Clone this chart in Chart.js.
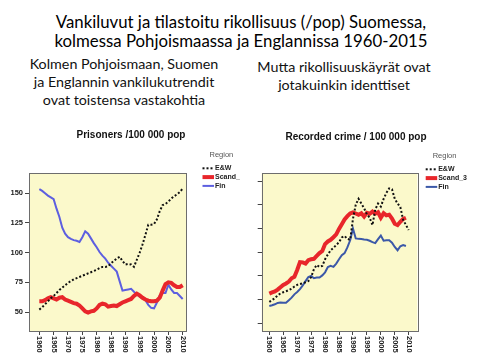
<!DOCTYPE html>
<html>
<head>
<meta charset="utf-8">
<script src="https://cdn.jsdelivr.net/npm/chart.js@4.4.1/dist/chart.umd.min.js"></script>
<style>
  body { margin: 0; width: 480px; height: 360px; background: #fff; overflow: hidden; position: relative; font-family: Lato, "Open Sans", sans-serif; }
  .t { position: absolute; left: 0; width: 482px; text-align: center; font-size: 16.8px; line-height: 19px; top: 12px; color: #000; }
  .s { position: absolute; text-align: center; font-size: 14.3px; line-height: 18px; color: #111; }
  #s1 { left: 4px; width: 240px; top: 55px; }
  #s2 { left: 244px; width: 200px; top: 58px; }
  canvas { position: absolute; top: 120px; }
  #prison { left: 0; }
  #crime { left: 240px; }
</style>
</head>
<body>
<div class="t">Vankiluvut ja tilastoitu rikollisuus (/pop) Suomessa,<br>kolmessa Pohjoismaassa ja Englannissa 1960-2015</div>
<div class="s" id="s1">Kolmen Pohjoismaan, Suomen<br>ja Englannin vankilukutrendit<br>ovat toistensa vastakohtia</div>
<div class="s" id="s2">Mutta rikollisuuskäyrät ovat<br>jotakuinkin identtiset</div>
<canvas id="prison" width="240" height="240"></canvas>
<canvas id="crime" width="240" height="240"></canvas>
<script>
// vuodet ja sarjat
const years = [1960,1961,1962,1963,1964,1965,1966,1967,1968,1969,
  1970,1971,1972,1973,1974,1975,1976,1977,1978,1979,
  1980,1981,1982,1983,1984,1985,1986,1987,1988,1989,
  1990,1991,1992,1993,1994,1995,1996,1997,1998,1999,
  2000,2001,2002,2003,2004,2005,2006,2007,2008,2009,
  2010];
const xTicks = [1960,1965,1970,1975,1980,1985,1990,1995,2000,2005,2010];
const seriesNames = ['E&W', 'Scand_3', 'Fin'];

const prisonTicks = [50,75,100,125,150];
const prisonEW = [52,54,56.5,59,61.5,63.5,66,68.5,70.5,72.5,
  74.5,76,77.5,78.5,79.5,80.5,81.5,82.5,83.5,84.5,
  85.5,87,88,88,88.5,91,93,95,96.5,93,
  90,90.5,90,88,94,100,107,115,123.5,123.5,
  124,128,135,140,141,143,145.5,147.5,149,151,
  154];
const prisonScand = [59,59,60,61.5,62.5,61.5,60.5,62,62.5,60.5,
  59.5,58.5,57.5,57,55.5,53,50.5,49.5,50.5,51,
  53,56,57,56.5,54.5,55,55.5,55,56.5,58,
  59,60,61,63.5,65.5,64,62,60.5,59.5,59,
  59,59.5,62,68,73.5,75,74.5,72.5,71,71,
  72.5];
const prisonFin = [153.5,152,150,148,146.5,145,137,130,121,116,
  113,111.5,110.5,110,109,113,118,116,112,108,
  104.5,100.5,97.5,95,91.5,89,86.5,84,76,68,
  68.5,69,69.5,67,65,63,61.5,60,56,53.5,
  53,58,64,66,66,73,69,66,66,63.5,
  61];

const crimeTicks = [2000,4000,6000,8000,10000,12000,14000];
const crimeEW = [3800,3960,4120,4360,4520,4620,4700,4800,4920,5100,
  5240,5320,5380,5460,5560,5900,6560,6920,6760,6840,
  7400,7800,8160,8360,8600,8840,9240,9360,9120,9040,
  10800,12000,12500,12100,11700,11200,10900,10280,11600,12100,
  11840,12500,13000,13380,13300,12500,12100,11800,10720,10300,
  9860];
const crimeScand = [4500,4600,4680,4840,5040,5240,5360,5520,5800,5920,
  6500,7160,7140,7040,7320,7400,7440,7680,7920,8100,
  8680,8900,9040,9260,9500,9960,10360,10760,11040,11260,
  11360,11260,11160,11280,11000,11320,11240,11420,11240,11360,
  10900,11280,11100,11160,10840,10400,10280,10560,10800,10900,
  null];
const crimeFin = [3460,3520,3600,3720,3760,3740,3740,3940,4160,4440,
  4640,4880,5200,5560,5900,6000,5800,5860,5860,6040,
  6300,6740,6840,6760,7040,7400,7740,7920,8400,9000,
  10000,9160,9120,9100,9060,9040,8960,8840,8760,9100,
  9400,8960,9000,9000,8800,8440,8160,8500,8600,8520,
  null];

const AXFONT = '"Liberation Sans", Arial, sans-serif';

function pts(vals) {
  return years.map((y, i) => ({ x: y, y: vals[i] }));
}

/**
 * panel: tausta, kehys, otsikko, selite ja x-akselin pystytekstit
 */
const panel = {
  id: 'panel',
  beforeDraw(chart) {
    const { ctx, chartArea: a } = chart;
    ctx.save();
    ctx.fillStyle = '#fbf9cb';
    ctx.fillRect(a.left, a.top, a.right - a.left, a.bottom - a.top);
    ctx.restore();
  },
  afterDraw(chart, args, o) {
    const { ctx, chartArea: a } = chart;
    ctx.save();
    ctx.strokeStyle = '#6d6d6d';
    ctx.lineWidth = 1;
    ctx.strokeRect(Math.round(a.left) + 0.5, Math.round(a.top) + 0.5,
      Math.round(a.right - a.left), Math.round(a.bottom - a.top));

    // otsikko
    ctx.fillStyle = '#111';
    ctx.font = 'bold 10px ' + AXFONT;
    ctx.textAlign = 'center';
    ctx.textBaseline = 'middle';
    ctx.fillText(o.title, o.titleX, o.titleY);

    // x-akselin tekstit ylhäältä alas
    const s = chart.scales.x;
    ctx.font = 'bold 7.5px ' + AXFONT;
    ctx.fillStyle = '#222';
    ctx.textAlign = 'left';
    s.ticks.forEach((t) => {
      const px = s.getPixelForValue(t.value);
      ctx.save();
      ctx.translate(px, s.top + 5);
      ctx.rotate(Math.PI / 2);
      ctx.fillText(String(t.value), 0, 0);
      ctx.restore();
    });

    // selite
    ctx.font = '7.5px ' + AXFONT;
    ctx.fillStyle = '#555';
    ctx.fillText('Region', o.legX + 7, o.legY);
    ctx.font = 'bold 7px ' + AXFONT;
    chart.data.datasets.forEach((ds, i) => {
      const y = o.legY + 13.3 + i * 8.8;
      ctx.save();
      ctx.strokeStyle = ds.borderColor;
      ctx.lineWidth = ds.borderWidth;
      ctx.setLineDash(ds.borderDash || []);
      ctx.beginPath();
      ctx.moveTo(o.legX, y);
      ctx.lineTo(o.legX + 11.5, y);
      ctx.stroke();
      ctx.restore();
      ctx.fillStyle = '#222';
      ctx.fillText(ds.label, o.legX + 12.5, y);
    });
    ctx.restore();
  }
};

function initChart(id, data, cfg) {
  const ctx = document.getElementById(id).getContext('2d');
  return new Chart(ctx, {
    type: 'line',
    data: {
      datasets: [
        { label: seriesNames[0], data: pts(data[0]), borderColor: '#111', borderWidth: 2, borderDash: [2, 2] },
        { label: seriesNames[1], data: pts(data[1]), borderColor: '#e8262b', borderWidth: 4 },
        { label: seriesNames[2], data: pts(data[2]), borderColor: cfg.finColor, borderWidth: 2 }
      ]
    },
    options: {
      responsive: false,
      animation: false,
      events: [],
      elements: { point: { radius: 0 }, line: { tension: 0, borderCapStyle: 'butt' } },
      layout: { padding: cfg.padding },
      plugins: {
        legend: { display: false },
        tooltip: { enabled: false },
        panel: cfg.panel
      },
      scales: {
        x: {
          type: 'linear',
          min: cfg.xMin,
          max: cfg.xMax,
          afterBuildTicks: (s) => { s.ticks = xTicks.map((v) => ({ value: v })); },
          afterFit: (s) => { s.height = cfg.xHeight; },
          ticks: { display: false },
          grid: { drawOnChartArea: false, drawTicks: true, tickLength: 4, color: '#444' },
          border: { display: false }
        },
        y: {
          min: cfg.yMin,
          max: cfg.yMax,
          afterBuildTicks: (s) => { s.ticks = cfg.yTicks.map((v) => ({ value: v })); },
          afterFit: (s) => { s.width = cfg.yWidth; },
          ticks: {
            display: cfg.yLabels,
            padding: 2,
            color: '#222',
            font: { family: AXFONT, size: 7.5, weight: 'bold' },
            callback: (v) => String(v)
          },
          grid: { drawOnChartArea: false, drawTicks: true, tickLength: 4, color: '#444' },
          border: { display: false }
        }
      }
    },
    plugins: [panel]
  });
}

initChart('prison', [prisonEW, prisonScand, prisonFin], {
  finColor: '#5d5fe0',
  padding: { left: 5, right: 54, top: 53.3, bottom: 0 },
  xMin: 1956.4, xMax: 2011.15, xHeight: 29,
  yMin: 34, yMax: 166.8, yTicks: prisonTicks, yWidth: 24, yLabels: true,
  panel: { title: 'Prisoners /100 000 pop', titleX: 131, titleY: 15.5, legX: 202.5, legY: 35 }
});

initChart('crime', [crimeEW, crimeScand, crimeFin], {
  finColor: '#3b58a8',
  padding: { left: 15.7, right: 62.7, top: 53.3, bottom: 0 },
  xMin: 1957.27, xMax: 2013.08, xHeight: 29,
  yMin: 1350, yMax: 14650, yTicks: crimeTicks, yWidth: 6, yLabels: false,
  panel: { title: 'Recorded crime / 100 000 pop', titleX: 116, titleY: 17, legX: 185.7, legY: 36 }
});
</script>
</body>
</html>
